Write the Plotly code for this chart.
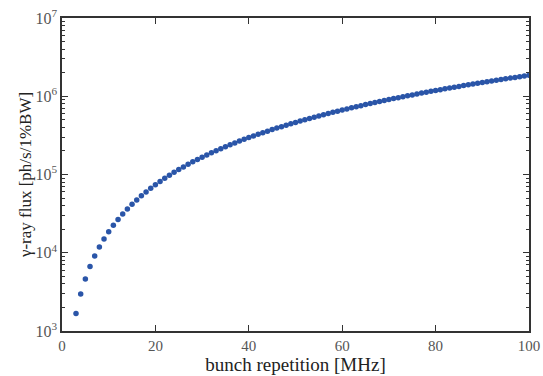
import plotly.graph_objects as go

# bunch repetition [MHz]
rep_mhz = [3, 4, 5, 6, 7, 8, 9, 10, 11, 12, 13, 14, 15, 16, 17, 18, 19, 20,
           21, 22, 23, 24, 25, 26, 27, 28, 29, 30, 31, 32, 33, 34, 35, 36, 37, 38, 39, 40,
           41, 42, 43, 44, 45, 46, 47, 48, 49, 50, 51, 52, 53, 54, 55, 56, 57, 58, 59, 60,
           61, 62, 63, 64, 65, 66, 67, 68, 69, 70, 71, 72, 73, 74, 75, 76, 77, 78, 79, 80,
           81, 82, 83, 84, 85, 86, 87, 88, 89, 90, 91, 92, 93, 94, 95, 96, 97, 98, 99, 100]

# gamma-ray flux [ph/s/1%BW]
flux = [1670, 2960, 4630, 6660, 9070, 11840, 15000, 18500, 22400, 26640, 31300, 36260,
        41600, 47360, 53500, 59940, 66800, 74000,
        81600, 89540, 97900, 106600, 115600, 125100, 134900, 145040, 155600, 166500,
        177800, 189440, 201500, 213900, 226600, 239800, 253300, 267140, 281400, 296000,
        311000, 326340, 342100, 358200, 374600, 391500, 408700, 426240, 444200, 462500,
        481200, 500240, 519700, 539500, 559600, 580200, 601100, 622340, 644000, 666000,
        688400, 711140, 734300, 757800, 781600, 805900, 830500, 855440, 880800, 906500,
        932600, 959040, 985900, 1013000, 1041000, 1069000, 1097000, 1126000, 1155000, 1184000,
        1214000, 1244000, 1274000, 1305000, 1337000, 1368000, 1400000, 1433000, 1465000, 1499000,
        1532000, 1566000, 1600000, 1635000, 1670000, 1705000, 1741000, 1777000, 1813000, 1850000]

x_ticks = [0, 20, 40, 60, 80, 100]
y_ticks = [1e3, 1e4, 1e5, 1e6, 1e7]
y_ticktext = ["10<sup>3</sup>", "10<sup>4</sup>", "10<sup>5</sup>", "10<sup>6</sup>", "10<sup>7</sup>"]
y_minor = [m * d for d in [1e3, 1e4, 1e5, 1e6] for m in range(2, 10)]

FONT = "Liberation Serif"
AX = "#333333"

fig = go.Figure(go.Scatter(
    x=rep_mhz, y=flux, mode="markers",
    marker=dict(size=5.5, color="#2a55a8", line=dict(width=0)),
    showlegend=False,
))

fig.update_layout(
    width=543, height=376,
    margin=dict(l=62, r=14, t=18, b=45, autoexpand=False),
    paper_bgcolor="white", plot_bgcolor="white",
    font=dict(family=FONT, size=16, color="#555555"),
)
fig.update_xaxes(
    range=[0, 100], tickvals=x_ticks, ticks="inside", ticklen=6, tickwidth=1,
    tickcolor=AX, showline=True, linecolor=AX, linewidth=1.5, mirror="ticks",
    showgrid=False, zeroline=False, automargin=False, ticklabeloverflow="allow",
    tickfont=dict(size=15),
    title=dict(text="bunch repetition [MHz]", font=dict(family=FONT, size=19, color="#222222"), standoff=4),
)
fig.update_yaxes(
    type="log", range=[3, 7], tickvals=y_ticks, ticktext=y_ticktext,
    ticks="inside", ticklen=6, tickwidth=1, tickcolor=AX,
    minor=dict(tickvals=y_minor, ticks="inside", ticklen=3, tickcolor=AX, showgrid=False),
    showline=True, linecolor=AX, linewidth=1.5, mirror="ticks",
    showgrid=False, zeroline=False, automargin=False, ticklabeloverflow="allow",
    title=dict(text="γ-ray flux [ph/s/1%BW]", font=dict(family=FONT, size=17, color="#222222"), standoff=0),
)

# remove the browser's default 8px body margin so the figure fills the window exactly
fig.write_html(
    "out.html",
    config={"displayModeBar": False},
    post_script="document.body.style.margin='0';document.body.style.overflow='hidden';",
)
